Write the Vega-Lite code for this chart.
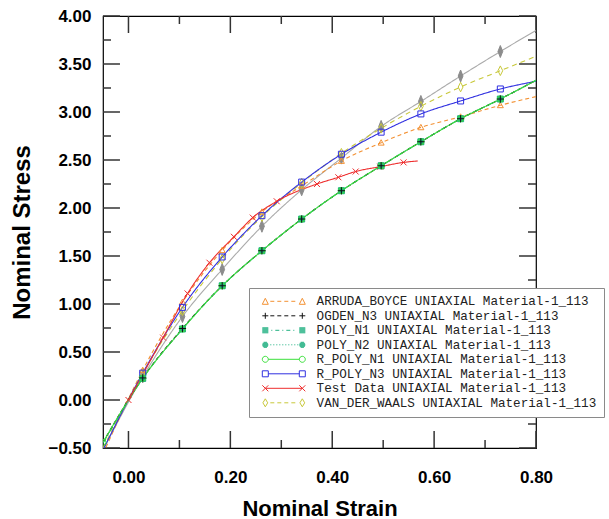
{
  "$schema": "https://vega.github.io/schema/vega-lite/v6.json",
  "width": 433,
  "height": 432,
  "autosize": {"type": "none"},
  "padding": {"left": 103, "top": 16, "right": 73, "bottom": 71},
  "background": "white",
  "config": {
    "view": {"stroke": "black", "strokeWidth": 1.2},
    "font": "Liberation Sans"
  },
  "datasets": {
    "yMajor": [{"v": -0.5}, {"v": 0}, {"v": 0.5}, {"v": 1}, {"v": 1.5}, {"v": 2}, {"v": 2.5}, {"v": 3}, {"v": 3.5}, {"v": 4}],
    "yMinor": [{"v": -0.25}, {"v": 0.25}, {"v": 0.75}, {"v": 1.25}, {"v": 1.75}, {"v": 2.25}, {"v": 2.75}, {"v": 3.25}, {"v": 3.75}],
    "xMajor": [{"v": 0}, {"v": 0.2}, {"v": 0.4}, {"v": 0.6}, {"v": 0.8}],
    "xMinor": [{"v": 0.1}, {"v": 0.3}, {"v": 0.5}, {"v": 0.7}],
    "curves": [
      {"series": "Series 9", "strain": -0.05, "stress": -0.52},
      {"series": "Series 9", "strain": 0.028, "stress": 0.24},
      {"series": "Series 9", "strain": 0.106, "stress": 0.87},
      {"series": "Series 9", "strain": 0.184, "stress": 1.36},
      {"series": "Series 9", "strain": 0.262, "stress": 1.81},
      {"series": "Series 9", "strain": 0.34, "stress": 2.19},
      {"series": "Series 9", "strain": 0.418, "stress": 2.52},
      {"series": "Series 9", "strain": 0.496, "stress": 2.85},
      {"series": "Series 9", "strain": 0.574, "stress": 3.11},
      {"series": "Series 9", "strain": 0.652, "stress": 3.375},
      {"series": "Series 9", "strain": 0.73, "stress": 3.63},
      {"series": "Series 9", "strain": 0.8, "stress": 3.85},
      {"series": "VAN_DER_WAALS", "strain": -0.05, "stress": -0.5},
      {"series": "VAN_DER_WAALS", "strain": 0.028, "stress": 0.28},
      {"series": "VAN_DER_WAALS", "strain": 0.106, "stress": 0.93},
      {"series": "VAN_DER_WAALS", "strain": 0.184, "stress": 1.47},
      {"series": "VAN_DER_WAALS", "strain": 0.262, "stress": 1.91},
      {"series": "VAN_DER_WAALS", "strain": 0.34, "stress": 2.26},
      {"series": "VAN_DER_WAALS", "strain": 0.418, "stress": 2.57},
      {"series": "VAN_DER_WAALS", "strain": 0.496, "stress": 2.83},
      {"series": "VAN_DER_WAALS", "strain": 0.574, "stress": 3.06},
      {"series": "VAN_DER_WAALS", "strain": 0.652, "stress": 3.26},
      {"series": "VAN_DER_WAALS", "strain": 0.73, "stress": 3.43},
      {"series": "VAN_DER_WAALS", "strain": 0.8, "stress": 3.58},
      {"series": "ARRUDA_BOYCE", "strain": -0.05, "stress": -0.56},
      {"series": "ARRUDA_BOYCE", "strain": 0.028, "stress": 0.31},
      {"series": "ARRUDA_BOYCE", "strain": 0.106, "stress": 1.02},
      {"series": "ARRUDA_BOYCE", "strain": 0.184, "stress": 1.56},
      {"series": "ARRUDA_BOYCE", "strain": 0.262, "stress": 1.96},
      {"series": "ARRUDA_BOYCE", "strain": 0.34, "stress": 2.23},
      {"series": "ARRUDA_BOYCE", "strain": 0.418, "stress": 2.49},
      {"series": "ARRUDA_BOYCE", "strain": 0.496, "stress": 2.68},
      {"series": "ARRUDA_BOYCE", "strain": 0.574, "stress": 2.84},
      {"series": "ARRUDA_BOYCE", "strain": 0.652, "stress": 2.95},
      {"series": "ARRUDA_BOYCE", "strain": 0.73, "stress": 3.07},
      {"series": "ARRUDA_BOYCE", "strain": 0.8, "stress": 3.16},
      {"series": "R_POLY_N3", "strain": -0.05, "stress": -0.52},
      {"series": "R_POLY_N3", "strain": 0.028, "stress": 0.28},
      {"series": "R_POLY_N3", "strain": 0.106, "stress": 0.965},
      {"series": "R_POLY_N3", "strain": 0.184, "stress": 1.49},
      {"series": "R_POLY_N3", "strain": 0.262, "stress": 1.92},
      {"series": "R_POLY_N3", "strain": 0.34, "stress": 2.27},
      {"series": "R_POLY_N3", "strain": 0.418, "stress": 2.56},
      {"series": "R_POLY_N3", "strain": 0.496, "stress": 2.79},
      {"series": "R_POLY_N3", "strain": 0.574, "stress": 2.98},
      {"series": "R_POLY_N3", "strain": 0.652, "stress": 3.115},
      {"series": "R_POLY_N3", "strain": 0.73, "stress": 3.24},
      {"series": "R_POLY_N3", "strain": 0.8, "stress": 3.32},
      {"series": "POLY_N1", "strain": -0.05, "stress": -0.45},
      {"series": "POLY_N1", "strain": 0.028, "stress": 0.225},
      {"series": "POLY_N1", "strain": 0.106, "stress": 0.74},
      {"series": "POLY_N1", "strain": 0.184, "stress": 1.19},
      {"series": "POLY_N1", "strain": 0.262, "stress": 1.555},
      {"series": "POLY_N1", "strain": 0.34, "stress": 1.885},
      {"series": "POLY_N1", "strain": 0.418, "stress": 2.18},
      {"series": "POLY_N1", "strain": 0.496, "stress": 2.44},
      {"series": "POLY_N1", "strain": 0.574, "stress": 2.69},
      {"series": "POLY_N1", "strain": 0.652, "stress": 2.93},
      {"series": "POLY_N1", "strain": 0.73, "stress": 3.135},
      {"series": "POLY_N1", "strain": 0.8, "stress": 3.33},
      {"series": "POLY_N2", "strain": -0.05, "stress": -0.45},
      {"series": "POLY_N2", "strain": 0.028, "stress": 0.225},
      {"series": "POLY_N2", "strain": 0.106, "stress": 0.74},
      {"series": "POLY_N2", "strain": 0.184, "stress": 1.19},
      {"series": "POLY_N2", "strain": 0.262, "stress": 1.555},
      {"series": "POLY_N2", "strain": 0.34, "stress": 1.885},
      {"series": "POLY_N2", "strain": 0.418, "stress": 2.18},
      {"series": "POLY_N2", "strain": 0.496, "stress": 2.44},
      {"series": "POLY_N2", "strain": 0.574, "stress": 2.69},
      {"series": "POLY_N2", "strain": 0.652, "stress": 2.93},
      {"series": "POLY_N2", "strain": 0.73, "stress": 3.135},
      {"series": "POLY_N2", "strain": 0.8, "stress": 3.33},
      {"series": "OGDEN_N3", "strain": -0.05, "stress": -0.44},
      {"series": "OGDEN_N3", "strain": 0.028, "stress": 0.23},
      {"series": "OGDEN_N3", "strain": 0.106, "stress": 0.745},
      {"series": "OGDEN_N3", "strain": 0.184, "stress": 1.19},
      {"series": "OGDEN_N3", "strain": 0.262, "stress": 1.555},
      {"series": "OGDEN_N3", "strain": 0.34, "stress": 1.885},
      {"series": "OGDEN_N3", "strain": 0.418, "stress": 2.18},
      {"series": "OGDEN_N3", "strain": 0.496, "stress": 2.44},
      {"series": "OGDEN_N3", "strain": 0.574, "stress": 2.69},
      {"series": "OGDEN_N3", "strain": 0.652, "stress": 2.93},
      {"series": "OGDEN_N3", "strain": 0.73, "stress": 3.135},
      {"series": "OGDEN_N3", "strain": 0.8, "stress": 3.33},
      {"series": "R_POLY_N1", "strain": -0.05, "stress": -0.44},
      {"series": "R_POLY_N1", "strain": 0.028, "stress": 0.226},
      {"series": "R_POLY_N1", "strain": 0.106, "stress": 0.74},
      {"series": "R_POLY_N1", "strain": 0.184, "stress": 1.19},
      {"series": "R_POLY_N1", "strain": 0.262, "stress": 1.555},
      {"series": "R_POLY_N1", "strain": 0.34, "stress": 1.885},
      {"series": "R_POLY_N1", "strain": 0.418, "stress": 2.18},
      {"series": "R_POLY_N1", "strain": 0.496, "stress": 2.44},
      {"series": "R_POLY_N1", "strain": 0.574, "stress": 2.69},
      {"series": "R_POLY_N1", "strain": 0.652, "stress": 2.93},
      {"series": "R_POLY_N1", "strain": 0.73, "stress": 3.135},
      {"series": "R_POLY_N1", "strain": 0.8, "stress": 3.33},
      {"series": "Test Data", "strain": 0.0, "stress": 0.0},
      {"series": "Test Data", "strain": 0.068, "stress": 0.65},
      {"series": "Test Data", "strain": 0.116, "stress": 1.11},
      {"series": "Test Data", "strain": 0.159, "stress": 1.43},
      {"series": "Test Data", "strain": 0.207, "stress": 1.7},
      {"series": "Test Data", "strain": 0.244, "stress": 1.9},
      {"series": "Test Data", "strain": 0.291, "stress": 2.07},
      {"series": "Test Data", "strain": 0.37, "stress": 2.25},
      {"series": "Test Data", "strain": 0.412, "stress": 2.32},
      {"series": "Test Data", "strain": 0.446, "stress": 2.38},
      {"series": "Test Data", "strain": 0.494, "stress": 2.43},
      {"series": "Test Data", "strain": 0.54, "stress": 2.475},
      {"series": "Test Data", "strain": 0.568, "stress": 2.49}
    ],
    "markers": [
      {"series": "Series 9", "strain": 0.028, "stress": 0.24},
      {"series": "Series 9", "strain": 0.106, "stress": 0.87},
      {"series": "Series 9", "strain": 0.184, "stress": 1.36},
      {"series": "Series 9", "strain": 0.262, "stress": 1.81},
      {"series": "Series 9", "strain": 0.34, "stress": 2.19},
      {"series": "Series 9", "strain": 0.418, "stress": 2.52},
      {"series": "Series 9", "strain": 0.496, "stress": 2.85},
      {"series": "Series 9", "strain": 0.574, "stress": 3.11},
      {"series": "Series 9", "strain": 0.652, "stress": 3.375},
      {"series": "Series 9", "strain": 0.73, "stress": 3.63},
      {"series": "VAN_DER_WAALS", "strain": 0.028, "stress": 0.28},
      {"series": "VAN_DER_WAALS", "strain": 0.106, "stress": 0.93},
      {"series": "VAN_DER_WAALS", "strain": 0.184, "stress": 1.47},
      {"series": "VAN_DER_WAALS", "strain": 0.262, "stress": 1.91},
      {"series": "VAN_DER_WAALS", "strain": 0.34, "stress": 2.26},
      {"series": "VAN_DER_WAALS", "strain": 0.418, "stress": 2.57},
      {"series": "VAN_DER_WAALS", "strain": 0.496, "stress": 2.83},
      {"series": "VAN_DER_WAALS", "strain": 0.574, "stress": 3.06},
      {"series": "VAN_DER_WAALS", "strain": 0.652, "stress": 3.26},
      {"series": "VAN_DER_WAALS", "strain": 0.73, "stress": 3.43},
      {"series": "ARRUDA_BOYCE", "strain": 0.028, "stress": 0.31},
      {"series": "ARRUDA_BOYCE", "strain": 0.106, "stress": 1.02},
      {"series": "ARRUDA_BOYCE", "strain": 0.184, "stress": 1.56},
      {"series": "ARRUDA_BOYCE", "strain": 0.262, "stress": 1.96},
      {"series": "ARRUDA_BOYCE", "strain": 0.34, "stress": 2.23},
      {"series": "ARRUDA_BOYCE", "strain": 0.418, "stress": 2.49},
      {"series": "ARRUDA_BOYCE", "strain": 0.496, "stress": 2.68},
      {"series": "ARRUDA_BOYCE", "strain": 0.574, "stress": 2.84},
      {"series": "ARRUDA_BOYCE", "strain": 0.652, "stress": 2.95},
      {"series": "ARRUDA_BOYCE", "strain": 0.73, "stress": 3.07},
      {"series": "R_POLY_N3", "strain": 0.028, "stress": 0.28},
      {"series": "R_POLY_N3", "strain": 0.106, "stress": 0.965},
      {"series": "R_POLY_N3", "strain": 0.184, "stress": 1.49},
      {"series": "R_POLY_N3", "strain": 0.262, "stress": 1.92},
      {"series": "R_POLY_N3", "strain": 0.34, "stress": 2.27},
      {"series": "R_POLY_N3", "strain": 0.418, "stress": 2.56},
      {"series": "R_POLY_N3", "strain": 0.496, "stress": 2.79},
      {"series": "R_POLY_N3", "strain": 0.574, "stress": 2.98},
      {"series": "R_POLY_N3", "strain": 0.652, "stress": 3.115},
      {"series": "R_POLY_N3", "strain": 0.73, "stress": 3.24},
      {"series": "Test Data", "strain": 0.0, "stress": 0.0},
      {"series": "Test Data", "strain": 0.068, "stress": 0.65},
      {"series": "Test Data", "strain": 0.116, "stress": 1.11},
      {"series": "Test Data", "strain": 0.159, "stress": 1.43},
      {"series": "Test Data", "strain": 0.207, "stress": 1.7},
      {"series": "Test Data", "strain": 0.244, "stress": 1.9},
      {"series": "Test Data", "strain": 0.291, "stress": 2.07},
      {"series": "Test Data", "strain": 0.37, "stress": 2.25},
      {"series": "Test Data", "strain": 0.412, "stress": 2.32},
      {"series": "Test Data", "strain": 0.446, "stress": 2.38},
      {"series": "Test Data", "strain": 0.494, "stress": 2.43},
      {"series": "Test Data", "strain": 0.54, "stress": 2.475},
      {"series": "POLY_N1", "strain": 0.028, "stress": 0.225},
      {"series": "POLY_N1", "strain": 0.106, "stress": 0.74},
      {"series": "POLY_N1", "strain": 0.184, "stress": 1.19},
      {"series": "POLY_N1", "strain": 0.262, "stress": 1.555},
      {"series": "POLY_N1", "strain": 0.34, "stress": 1.885},
      {"series": "POLY_N1", "strain": 0.418, "stress": 2.18},
      {"series": "POLY_N1", "strain": 0.496, "stress": 2.44},
      {"series": "POLY_N1", "strain": 0.574, "stress": 2.69},
      {"series": "POLY_N1", "strain": 0.652, "stress": 2.93},
      {"series": "POLY_N1", "strain": 0.73, "stress": 3.135},
      {"series": "POLY_N2", "strain": 0.028, "stress": 0.225},
      {"series": "POLY_N2", "strain": 0.106, "stress": 0.74},
      {"series": "POLY_N2", "strain": 0.184, "stress": 1.19},
      {"series": "POLY_N2", "strain": 0.262, "stress": 1.555},
      {"series": "POLY_N2", "strain": 0.34, "stress": 1.885},
      {"series": "POLY_N2", "strain": 0.418, "stress": 2.18},
      {"series": "POLY_N2", "strain": 0.496, "stress": 2.44},
      {"series": "POLY_N2", "strain": 0.574, "stress": 2.69},
      {"series": "POLY_N2", "strain": 0.652, "stress": 2.93},
      {"series": "POLY_N2", "strain": 0.73, "stress": 3.135},
      {"series": "R_POLY_N1", "strain": -0.05, "stress": -0.44},
      {"series": "R_POLY_N1", "strain": 0.028, "stress": 0.226},
      {"series": "R_POLY_N1", "strain": 0.106, "stress": 0.74},
      {"series": "R_POLY_N1", "strain": 0.184, "stress": 1.19},
      {"series": "R_POLY_N1", "strain": 0.262, "stress": 1.555},
      {"series": "R_POLY_N1", "strain": 0.34, "stress": 1.885},
      {"series": "R_POLY_N1", "strain": 0.418, "stress": 2.18},
      {"series": "R_POLY_N1", "strain": 0.496, "stress": 2.44},
      {"series": "R_POLY_N1", "strain": 0.574, "stress": 2.69},
      {"series": "R_POLY_N1", "strain": 0.652, "stress": 2.93},
      {"series": "R_POLY_N1", "strain": 0.73, "stress": 3.135},
      {"series": "OGDEN_N3", "strain": 0.028, "stress": 0.23},
      {"series": "OGDEN_N3", "strain": 0.106, "stress": 0.745},
      {"series": "OGDEN_N3", "strain": 0.184, "stress": 1.19},
      {"series": "OGDEN_N3", "strain": 0.262, "stress": 1.555},
      {"series": "OGDEN_N3", "strain": 0.34, "stress": 1.885},
      {"series": "OGDEN_N3", "strain": 0.418, "stress": 2.18},
      {"series": "OGDEN_N3", "strain": 0.496, "stress": 2.44},
      {"series": "OGDEN_N3", "strain": 0.574, "stress": 2.69},
      {"series": "OGDEN_N3", "strain": 0.652, "stress": 2.93},
      {"series": "OGDEN_N3", "strain": 0.73, "stress": 3.135}
    ]
  },
  "layer": [
    {
      "data": {"name": "yMajor"},
      "mark": {"type": "rule", "color": "#333", "strokeWidth": 1.5},
      "encoding": {
        "y": {"field": "v", "type": "quantitative", "scale": {"domain": [-0.5, 4.0], "nice": false, "zero": false}, "axis": null},
        "x": {"datum": -0.05, "type": "quantitative", "scale": {"domain": [-0.05, 0.8], "nice": false, "zero": false}, "axis": null},
        "x2": {"datum": -0.0167}
      }
    },
    {
      "data": {"name": "yMajor"},
      "mark": {"type": "rule", "color": "#333", "strokeWidth": 1.5},
      "encoding": {
        "y": {"field": "v", "type": "quantitative", "scale": {"domain": [-0.5, 4.0], "nice": false, "zero": false}, "axis": null},
        "x": {"datum": 0.8, "type": "quantitative", "scale": {"domain": [-0.05, 0.8], "nice": false, "zero": false}, "axis": null},
        "x2": {"datum": 0.7667}
      }
    },
    {
      "data": {"name": "yMinor"},
      "mark": {"type": "rule", "color": "#333", "strokeWidth": 1.5},
      "encoding": {
        "y": {"field": "v", "type": "quantitative", "scale": {"domain": [-0.5, 4.0], "nice": false, "zero": false}, "axis": null},
        "x": {"datum": -0.05, "type": "quantitative", "scale": {"domain": [-0.05, 0.8], "nice": false, "zero": false}, "axis": null},
        "x2": {"datum": -0.0343}
      }
    },
    {
      "data": {"name": "yMinor"},
      "mark": {"type": "rule", "color": "#333", "strokeWidth": 1.5},
      "encoding": {
        "y": {"field": "v", "type": "quantitative", "scale": {"domain": [-0.5, 4.0], "nice": false, "zero": false}, "axis": null},
        "x": {"datum": 0.8, "type": "quantitative", "scale": {"domain": [-0.05, 0.8], "nice": false, "zero": false}, "axis": null},
        "x2": {"datum": 0.7843}
      }
    },
    {
      "data": {"name": "xMajor"},
      "mark": {"type": "rule", "color": "#333", "strokeWidth": 1.5},
      "encoding": {
        "x": {"field": "v", "type": "quantitative", "scale": {"domain": [-0.05, 0.8], "nice": false, "zero": false}, "axis": null},
        "y": {"datum": -0.5, "type": "quantitative", "scale": {"domain": [-0.5, 4.0], "nice": false, "zero": false}, "axis": null},
        "y2": {"datum": -0.323}
      }
    },
    {
      "data": {"name": "xMajor"},
      "mark": {"type": "rule", "color": "#333", "strokeWidth": 1.5},
      "encoding": {
        "x": {"field": "v", "type": "quantitative", "scale": {"domain": [-0.05, 0.8], "nice": false, "zero": false}, "axis": null},
        "y": {"datum": 4.0, "type": "quantitative", "scale": {"domain": [-0.5, 4.0], "nice": false, "zero": false}, "axis": null},
        "y2": {"datum": 3.823}
      }
    },
    {
      "data": {"name": "xMinor"},
      "mark": {"type": "rule", "color": "#333", "strokeWidth": 1.5},
      "encoding": {
        "x": {"field": "v", "type": "quantitative", "scale": {"domain": [-0.05, 0.8], "nice": false, "zero": false}, "axis": null},
        "y": {"datum": -0.5, "type": "quantitative", "scale": {"domain": [-0.5, 4.0], "nice": false, "zero": false}, "axis": null},
        "y2": {"datum": -0.4167}
      }
    },
    {
      "data": {"name": "xMinor"},
      "mark": {"type": "rule", "color": "#333", "strokeWidth": 1.5},
      "encoding": {
        "x": {"field": "v", "type": "quantitative", "scale": {"domain": [-0.05, 0.8], "nice": false, "zero": false}, "axis": null},
        "y": {"datum": 4.0, "type": "quantitative", "scale": {"domain": [-0.5, 4.0], "nice": false, "zero": false}, "axis": null},
        "y2": {"datum": 3.9167}
      }
    },
    {
      "data": {"name": "curves"},
      "mark": {"type": "line", "clip": true, "strokeWidth": 1.1, "interpolate": "monotone"},
      "encoding": {
        "x": {
          "field": "strain", "type": "quantitative",
          "scale": {"domain": [-0.05, 0.8], "nice": false, "zero": false},
          "axis": {
            "orient": "bottom", "domain": false, "ticks": false, "grid": false,
            "values": [0, 0.1, 0.2, 0.3, 0.4, 0.5, 0.6, 0.7, 0.8],
            "labelExpr": "abs(round(datum.value*10))%2==0 ? format(datum.value,'.2f') : ''",
            "labelOverlap": false, "labelFlush": false, "labelBound": false,
            "labelFont": "Liberation Sans", "labelFontWeight": "bold", "labelFontSize": 17, "labelColor": "black",
            "labelPadding": 21,
            "title": "Nominal Strain",
            "titleFont": "Liberation Sans", "titleFontWeight": "bold", "titleFontSize": 22, "titleColor": "black",
            "titleBaseline": "alphabetic", "titleY": 67
          }
        },
        "y": {
          "field": "stress", "type": "quantitative",
          "scale": {"domain": [-0.5, 4.0], "nice": false, "zero": false},
          "axis": {
            "orient": "left", "domain": false, "ticks": false, "grid": false,
            "values": [-0.5, -0.25, 0, 0.25, 0.5, 0.75, 1, 1.25, 1.5, 1.75, 2, 2.25, 2.5, 2.75, 3, 3.25, 3.5, 3.75, 4],
            "labelExpr": "abs(round(datum.value*4))%2==0 ? format(datum.value,'.2f') : ''",
            "labelOverlap": false, "labelFlush": false, "labelBound": false,
            "labelFont": "Liberation Sans", "labelFontWeight": "bold", "labelFontSize": 17, "labelColor": "black",
            "labelPadding": 12,
            "title": "Nominal Stress",
            "titleFont": "Liberation Sans", "titleFontWeight": "bold", "titleFontSize": 24, "titleColor": "black",
            "titleBaseline": "middle", "titleX": -81
          }
        },
        "color": {
          "field": "series", "type": "nominal", "legend": null,
          "scale": {
            "domain": ["ARRUDA_BOYCE", "OGDEN_N3", "POLY_N1", "POLY_N2", "R_POLY_N1", "R_POLY_N3", "Test Data", "VAN_DER_WAALS", "Series 9"],
            "range": ["#F39133", "#111111", "#20B080", "#20B080", "#3BE03B", "#3030E0", "#EE2E2E", "#C8C83A", "#AAAAAA"]
          }
        },
        "strokeDash": {
          "field": "series", "type": "nominal", "legend": null,
          "scale": {
            "domain": ["ARRUDA_BOYCE", "OGDEN_N3", "POLY_N1", "POLY_N2", "R_POLY_N1", "R_POLY_N3", "Test Data", "VAN_DER_WAALS", "Series 9"],
            "range": [[4, 3], [4, 3], [6, 3, 1, 3], [1, 2], [1, 0], [1, 0], [1, 0], [5, 4], [1, 0]]
          }
        }
      }
    },
    {
      "data": {"name": "markers"},
      "mark": {"type": "point", "clip": true, "size": 36, "strokeWidth": 1, "opacity": 1},
      "encoding": {
        "x": {"field": "strain", "type": "quantitative", "scale": {"domain": [-0.05, 0.8], "nice": false, "zero": false}, "axis": null},
        "y": {"field": "stress", "type": "quantitative", "scale": {"domain": [-0.5, 4.0], "nice": false, "zero": false}, "axis": null},
        "shape": {
          "field": "series", "type": "nominal", "legend": null,
          "scale": {
            "domain": ["ARRUDA_BOYCE", "OGDEN_N3", "POLY_N1", "POLY_N2", "R_POLY_N1", "R_POLY_N3", "Test Data", "VAN_DER_WAALS", "Series 9"],
            "range": [
              "M-1,0.8L0,-1L1,0.8Z",
              "M-1.2,0H1.2M0,-1.2V1.2",
              "M-1,-1H1V1H-1Z",
              "circle",
              "circle",
              "M-1,-1H1V1H-1Z",
              "M-1,-1L1,1M-1,1L1,-1",
              "M0,-1.6L0.8,0L0,1.6L-0.8,0Z",
              "M0,-2L0.8,0L0,2L-0.8,0Z"
            ]
          }
        },
        "stroke": {
          "field": "series", "type": "nominal", "legend": null,
          "scale": {
            "domain": ["ARRUDA_BOYCE", "OGDEN_N3", "POLY_N1", "POLY_N2", "R_POLY_N1", "R_POLY_N3", "Test Data", "VAN_DER_WAALS", "Series 9"],
            "range": ["#F39133", "#111111", "#20B080", "#20B080", "#3BE03B", "#3030E0", "#EE2E2E", "#C8C83A", "#8C8C8C"]
          }
        },
        "fill": {
          "field": "series", "type": "nominal", "legend": null,
          "scale": {
            "domain": ["ARRUDA_BOYCE", "OGDEN_N3", "POLY_N1", "POLY_N2", "R_POLY_N1", "R_POLY_N3", "Test Data", "VAN_DER_WAALS", "Series 9"],
            "range": ["transparent", "transparent", "#20B080", "#20B080", "transparent", "transparent", "transparent", "transparent", "#8C8C8C"]
          }
        }
      }
    },
    {
      "data": {"name": "markers"},
      "transform": [{"filter": "datum.series != 'Series 9'"}],
      "mark": {"type": "point", "opacity": 0, "filled": false, "strokeWidth": 1},
      "encoding": {
        "x": {"field": "strain", "type": "quantitative", "scale": {"domain": [-0.05, 0.8], "nice": false, "zero": false}, "axis": null},
        "y": {"field": "stress", "type": "quantitative", "scale": {"domain": [-0.5, 4.0], "nice": false, "zero": false}, "axis": null},
        "color": {
          "field": "series", "type": "nominal",
          "scale": {
            "domain": ["ARRUDA_BOYCE", "OGDEN_N3", "POLY_N1", "POLY_N2", "R_POLY_N1", "R_POLY_N3", "Test Data", "VAN_DER_WAALS"],
            "range": ["#F39133", "#111111", "#20B080", "#20B080", "#3BE03B", "#3030E0", "#EE2E2E", "#C8C83A"]
          },
          "legend": {
            "title": null, "orient": "none", "legendX": 146, "legendY": 272, "zindex": 3,
            "padding": 7, "fillColor": "white", "strokeColor": "#8a8a8a",
            "symbolSize": 64, "symbolStrokeWidth": 1, "symbolOpacity": 1,
            "labelFont": "Liberation Mono", "labelFontSize": 12.6, "labelColor": "#222",
            "labelOffset": 48, "labelLimit": 400, "rowPadding": 1.5,
            "labelExpr": "datum.label + ' UNIAXIAL Material-1_113'",
            "encode": {"legend": {"update": {"strokeWidth": {"value": 2}}}}
          }
        },
        "shape": {
          "field": "series", "type": "nominal",
          "scale": {
            "domain": ["ARRUDA_BOYCE", "OGDEN_N3", "POLY_N1", "POLY_N2", "R_POLY_N1", "R_POLY_N3", "Test Data", "VAN_DER_WAALS"],
            "range": [
              "M0,0.75L0.75,-0.75L1.5,0.75Z M9.25,0.75L10,-0.75L10.75,0.75Z M2,0H3M3.75,0H4.75M5.5,0H6.5M7.25,0H8.25",
              "M0,0H1.5M0.75,-0.75V0.75 M9.25,0H10.75M10,-0.75V0.75 M2,0H3M3.75,0H4.75M5.5,0H6.5M7.25,0H8.25",
              "M0,-0.625H1.5M0,-0.375H1.5M0,-0.125H1.5M0,0.125H1.5M0,0.375H1.5M0,0.625H1.5 M9.25,-0.625H10.75M9.25,-0.375H10.75M9.25,-0.125H10.75M9.25,0.125H10.75M9.25,0.375H10.75M9.25,0.625H10.75 M2.25,0H2.5M3.25,0H4.25M5,0H5.25M6,0H7M7.75,0H8",
              "M0.335,-0.625H1.165M0.1,-0.375H1.4M0.01,-0.125H1.49M0.01,0.125H1.49M0.1,0.375H1.4M0.335,0.625H1.165 M9.585,-0.625H10.415M9.35,-0.375H10.65M9.26,-0.125H10.74M9.26,0.125H10.74M9.35,0.375H10.65M9.585,0.625H10.415 M2,0H2.25M2.75,0H3M3.5,0H3.75M4.25,0H4.5M5,0H5.25M5.75,0H6M6.5,0H6.75M7.25,0H7.5M8,0H8.25M8.75,0H9",
              "M1.5,0A0.75,0.75,0,1,1,0,0A0.75,0.75,0,1,1,1.5,0 M1.5,0H9.25 M10.75,0A0.75,0.75,0,1,1,9.25,0A0.75,0.75,0,1,1,10.75,0",
              "M0,-0.75H1.5V0.75H0Z M1.5,0H9.25 M9.25,-0.75H10.75V0.75H9.25Z",
              "M0,-0.75L1.5,0.75M0,0.75L1.5,-0.75 M0.75,0H10 M9.25,-0.75L10.75,0.75M9.25,0.75L10.75,-0.75",
              "M0.75,-1L1.35,0L0.75,1L0.15,0Z M10,-1L10.6,0L10,1L9.4,0Z M2,0H3M3.75,0H4.75M5.5,0H6.5M7.25,0H8.25"
            ]
          },
          "legend": {
            "title": null, "orient": "none", "legendX": 146, "legendY": 272, "zindex": 3,
            "padding": 7, "fillColor": "white", "strokeColor": "#8a8a8a",
            "symbolSize": 64, "symbolStrokeWidth": 1, "symbolOpacity": 1,
            "labelFont": "Liberation Mono", "labelFontSize": 12.6, "labelColor": "#222",
            "labelOffset": 48, "labelLimit": 400, "rowPadding": 1.5,
            "labelExpr": "datum.label + ' UNIAXIAL Material-1_113'",
            "encode": {"legend": {"update": {"strokeWidth": {"value": 2}}}}
          }
        }
      }
    }
  ],
  "resolve": {
    "scale": {"color": "independent", "shape": "independent"},
    "axis": {"x": "independent", "y": "independent"}
  }
}
